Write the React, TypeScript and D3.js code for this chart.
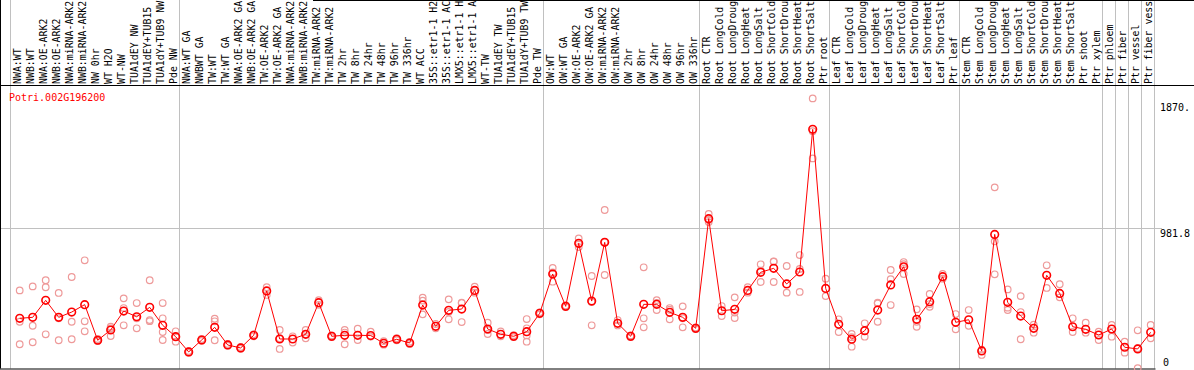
import * as d3 from "d3";
import { useEffect, useRef } from "react";

const geneId = "Potri.002G196200";

// sample labels as shown (the source cuts them to 14 characters)
const labels = [
  "NWA:WT", "NWB:WT", "NWA:OE-ARK2", "NWB:OE-ARK2", "NWA:miRNA-ARK2", "NWB:miRNA-ARK2",
  "NW 0hr", "WT H2O", "WT-NW", "TUA1dEY NW", "TUA1dEY+TUB15", "TUA1dY+TUB9 NW", "Pde NW",
  "NWA:WT GA", "NWBWT GA", "TW:WT", "TW:WT GA", "NWA:OE-ARK2 GA", "NWB:OE-ARK2 GA",
  "TW:OE-ARK2", "TW:OE-ARK2 GA", "NWA:miRNA-ARK2", "NWB:miRNA-ARK2", "TW:miRNA-ARK2",
  "TW:miRNA-ARK2", "TW 2hr", "TW 8hr", "TW 24hr", "TW 48hr", "TW 96hr", "TW 336hr",
  "WT ACC", "35S::etr1-1 H2", "35S::etr1-1 AC", "LMX5::etr1-1 H", "LMX5::etr1-1 A",
  "WT-TW", "TUA1dEY TW", "TUA1dEY+TUB15", "TUA1dY+TUB9 TW", "Pde TW",
  "OW:WT", "OW:WT GA", "OW:OE-ARK2", "OW:OE-ARK2 GA", "OW:miRNA-ARK2", "OW:miRNA-ARK2",
  "OW 2hr", "OW 8hr", "OW 24hr", "OW 48hr", "OW 96hr", "OW 336hr",
  "Root CTR", "Root LongCold", "Root LongDroug", "Root LongHeat", "Root LongSalt",
  "Root ShortCold", "Root ShortDrou", "Root ShortHeat", "Root ShortSalt", "Ptr root",
  "Leaf CTR", "Leaf LongCold", "Leaf LongDroug", "Leaf LongHeat", "Leaf LongSalt",
  "Leaf ShortCold", "Leaf ShortDrou", "Leaf ShortHeat", "Leaf ShortSalt", "Ptr leaf",
  "Stem CTR", "Stem LongCold", "Stem LongDroug", "Stem LongHeat", "Stem LongSalt",
  "Stem ShortCold", "Stem ShortDrou", "Stem ShortHeat", "Stem ShortSalt", "Ptr shoot",
  "Ptr xylem", "Ptr phloem", "Ptr fiber", "Ptr vessel", "Ptr fiber vess",
];

// first sample index of every group (separator lines)
const groupStarts = [0, 13, 41, 53, 63, 73, 84, 85, 86, 87, 88];

const means = [
  350, 357, 476, 357, 394, 446, 196, 268, 401, 361, 427, 301, 221,
  114, 198, 287, 163, 142, 231, 542, 205, 205, 238, 460, 224, 231, 231, 229,
  175, 203, 177, 443, 294, 406, 415, 546, 275, 238, 224, 256, 385,
  661, 434, 876, 471, 883, 315, 224, 448, 448, 392, 357, 280,
  1049, 403, 413, 546, 673, 701, 591, 675, 1676, 560,
  308, 203, 263, 408, 584, 712, 343, 467, 642, 322,
  340, 121, 939, 462, 366, 280, 652, 525, 291, 273, 233,
  275, 147, 135, 252,
];

const replicates = [
  [546, 326, 168], [574, 298, 182], [617, 568, 238], [528, 350, 196], [640, 326, 203],
  [757, 329, 259], [205, 190, 196], [291, 226, 280], [490, 422, 301], [457, 280, 350],
  [617, 338, 330], [457, 350, 254, 198], [259, 186, 221],
  [120, 108], [205, 192], [347, 329, 196], [170, 158], [148, 136], [238, 224],
  [568, 514], [268, 135, 210], [224, 180], [268, 210, 238], [478, 445], [230, 218],
  [268, 168, 250], [277, 198], [256, 222], [190, 165], [210, 196], [185, 170],
  [495, 474, 378], [310, 280], [483, 343, 395], [457, 324, 460], [572, 530],
  [319, 240, 268], [258, 224], [232, 218], [345, 280, 230, 186], [392, 378],
  [703, 607, 672], [440, 428], [911, 870, 850], [647, 301, 465], [1110, 654, 885],
  [338, 300], [230, 218], [708, 350, 287], [478, 408, 458], [422, 343, 410],
  [434, 287, 350], [286, 274],
  [1082, 1040, 1025], [436, 366], [497, 352, 390], [568, 530], [729, 605, 685],
  [747, 605, 750], [717, 530], [794, 535, 696], [1893, 1472, 1663], [628, 506],
  [343, 254], [240, 151, 218], [315, 221], [455, 326, 460], [689, 624, 443],
  [745, 661, 730], [413, 291, 326], [521, 431, 450], [661, 628], [380, 273],
  [408, 298], [93, 130], [1269, 890, 659], [553, 408, 425], [506, 394, 203],
  [305, 249], [722, 563], [589, 497], [350, 254], [319, 249], [256, 198],
  [303, 221], [186, 109], [266, 0, 140], [303, 210],
];

const axisTicks = [
  { value: 1870, text: "1870." },
  { value: 981.8, text: "981.8" },
  { value: 0, text: "0" },
];
const gridValues = [981.8];

export default function App() {
  const svgRef = useRef<SVGSVGElement>(null);

  useEffect(() => {
    if (!svgRef.current) return;
    const svg = d3.select(svgRef.current);
    svg.selectAll("*").remove();

    const width = 1194;
    const height = 370;
    const headerBottom = 85;
    const plotRight = 1154.5;
    const plotBottom = 368.5;
    const font = "'DejaVu Sans Mono', monospace";

    const idx = d3.range(labels.length);
    const x = d3.scalePoint<number>().domain(idx).range([19.7, 1150.7]);
    const step = x.step();
    const y = d3.scaleLinear().domain([0, 1870]).range([368.2, 101.7]);

    svg.append("rect").attr("width", width).attr("height", height).attr("fill", "white");

    // group separators
    svg
      .append("g")
      .selectAll("line")
      .data(groupStarts)
      .enter()
      .append("line")
      .attr("x1", (d) => Math.round(x(0)! - 9.4 + d * step) + 0.5)
      .attr("x2", (d) => Math.round(x(0)! - 9.4 + d * step) + 0.5)
      .attr("y1", 0)
      .attr("y2", plotBottom)
      .attr("stroke", "#c0c0c0")
      .attr("stroke-width", 1);

    // horizontal grid
    svg
      .append("g")
      .selectAll("line")
      .data(gridValues)
      .enter()
      .append("line")
      .attr("x1", 0)
      .attr("x2", 1162)
      .attr("y1", (d) => Math.round(y(d)) + 0.5)
      .attr("y2", (d) => Math.round(y(d)) + 0.5)
      .attr("stroke", "#c0c0c0");

    // frame lines
    svg.append("line").attr("x1", 0.5).attr("x2", 0.5).attr("y1", 0).attr("y2", plotBottom).attr("stroke", "black");
    svg.append("line").attr("x1", 0).attr("x2", width).attr("y1", headerBottom + 0.5).attr("y2", headerBottom + 0.5).attr("stroke", "black");
    svg.append("line").attr("x1", 313).attr("x2", width).attr("y1", 0.5).attr("y2", 0.5).attr("stroke", "black");
    svg.append("line").attr("x1", 0).attr("x2", plotRight + 1).attr("y1", plotBottom + 0.5).attr("y2", plotBottom + 0.5).attr("stroke", "black");

    // sample labels
    svg
      .append("g")
      .selectAll("text")
      .data(labels)
      .enter()
      .append("text")
      .attr("transform", (_, i) => `translate(${x(i)! + 1.6},${headerBottom - 1}) rotate(-90)`)
      .attr("font-family", font)
      .attr("font-size", "9.9px")
      .attr("fill", "black")
      .text((d) => d);

    // gene id
    svg
      .append("text")
      .attr("x", 9)
      .attr("y", 101)
      .attr("font-family", font)
      .attr("font-size", "10px")
      .attr("fill", "#ff0000")
      .text(geneId);

    // right axis labels
    svg
      .append("g")
      .selectAll("text")
      .data(axisTicks)
      .enter()
      .append("text")
      .attr("x", (d) => (d.value === 0 ? 1163 : 1160))
      .attr("y", (d) => Math.min(y(d.value) + 9, 366))
      .attr("font-family", font)
      .attr("font-size", "10px")
      .attr("fill", "black")
      .text((d) => d.text);

    // replicate points
    const reps = replicates.flatMap((vals, i) => vals.map((v) => ({ i, v })));
    svg
      .append("g")
      .selectAll("circle")
      .data(reps)
      .enter()
      .append("circle")
      .attr("cx", (d) => x(d.i)!)
      .attr("cy", (d) => y(d.v))
      .attr("r", 3.3)
      .attr("fill", "none")
      .attr("stroke", "#ee9a9a")
      .attr("stroke-width", 1.2);

    // mean line
    const line = d3
      .line<number>()
      .x((_, i) => x(i)!)
      .y((d) => y(d));
    svg
      .append("path")
      .datum(means)
      .attr("fill", "none")
      .attr("stroke", "#ff0000")
      .attr("stroke-width", 1)
      .attr("d", line);

    svg
      .append("g")
      .selectAll("circle")
      .data(means)
      .enter()
      .append("circle")
      .attr("cx", (_, i) => x(i)!)
      .attr("cy", (d) => y(d))
      .attr("r", 3.8)
      .attr("fill", "none")
      .attr("stroke", "#ff0000")
      .attr("stroke-width", 1.6);
  }, []);

  return (
    <svg
      ref={svgRef}
      width="1194"
      height="370"
      style={{ position: "absolute", left: 0, top: 0, display: "block" }}
    />
  );
}
